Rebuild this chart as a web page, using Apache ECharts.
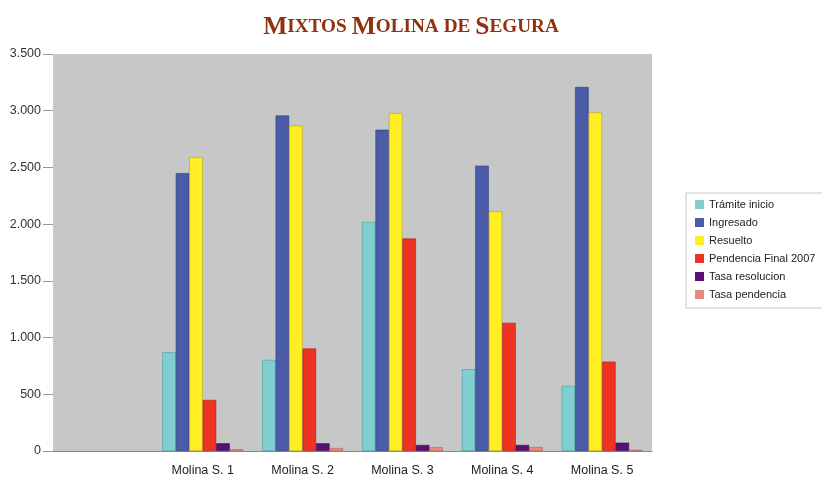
<!DOCTYPE html>
<html>
<head>
<meta charset="utf-8">
<script src="https://cdn.jsdelivr.net/npm/echarts@6/dist/echarts.min.js"></script>
<style>
  html, body { margin: 0; padding: 0; background: #fff; }
  #main { width: 822px; height: 478px; }
</style>
</head>
<body>
<div id="main"></div>
<script>
const categories = ['', 'Molina S. 1', 'Molina S. 2', 'Molina S. 3', 'Molina S. 4', 'Molina S. 5'];
const tramiteInicio = ['-', 870, 803, 2020, 721, 573];
const ingresado = ['-', 2450, 2958, 2832, 2515, 3209];
const resuelto = ['-', 2588, 2867, 2979, 2112, 2985];
const pendenciaFinal = ['-', 450, 903, 1873, 1130, 788];
const tasaResolucion = ['-', 68, 68, 53, 53, 73];
const tasaPendencia = ['-', 15, 26, 33, 35, 10];

const chartDom = document.getElementById('main');
const myChart = echarts.init(chartDom);

function bar(name, data, color, border) {
    return {
        name: name,
        type: 'bar',
        data: data,
        barGap: '0%',
        barCategoryGap: '19%',
        itemStyle: {color: color, borderColor: border, borderWidth: 0.6}
    };
}

let option = {
    animation: false,
    title: {
        text: '{b|M}{s|IXTOS} {b|M}{s|OLINA} {s|DE} {b|S}{s|EGURA}',
        left: 'center',
        top: 9,
        textStyle: {
            rich: {
                b: {fontFamily: 'Liberation Serif', fontSize: 25.5, color: '#8f3210'},
                s: {fontFamily: 'Liberation Serif', fontSize: 19.2, color: '#8f3210'}
            }
        }
    },
    grid: {left: 53, right: 170, top: 54, bottom: 27},
    legend: {
        orient: 'vertical',
        left: 686,
        top: 193,
        icon: 'rect',
        itemWidth: 9,
        itemHeight: 9,
        itemGap: 7,
        padding: [6, 8, 8, 9],
        borderColor: '#c8c8c8',
        borderWidth: 1,
        itemStyle: {borderWidth: 0},
        textStyle: {fontFamily: 'Liberation Sans', fontSize: 11, color: '#222'},
        data: ['Trámite inicio', 'Ingresado', 'Resuelto', 'Pendencia Final 2007', 'Tasa resolucion', 'Tasa pendencia']
    },
    xAxis: {
        type: 'category',
        data: categories,
        axisLine: {lineStyle: {color: '#888'}},
        axisTick: {alignWithLabel: true, length: 8, lineStyle: {color: '#999'}},
        axisLabel: {fontFamily: 'Liberation Sans', fontSize: 12.5, color: '#222', margin: 13}
    },
    yAxis: {
        type: 'value',
        min: 0,
        max: 3500,
        interval: 500,
        axisLine: {show: false},
        axisTick: {show: true, length: 10, lineStyle: {color: '#999'}},
        splitLine: {lineStyle: {color: '#8a8a8a', width: 1}},
        axisLabel: {
            fontFamily: 'Liberation Sans',
            fontSize: 12.5,
            color: '#333',
            margin: 12,
            formatter: function (v) {
                return String(v).replace(/\B(?=(\d{3})+(?!\d))/g, '.');
            }
        }
    },
    series: [
        Object.assign(bar('Trámite inicio', tramiteInicio, '#7fcfd0', '#4f9a9c'), {
            markArea: {
                silent: true,
                itemStyle: {color: '#c6c7c7'},
                data: [[{x: 53, y: 54}, {x: 652, y: 451}]]
            },
            z: 2
        }),
        bar('Ingresado', ingresado, '#4a5ba8', '#2e3b7a'),
        bar('Resuelto', resuelto, '#ffee22', '#b8a818'),
        bar('Pendencia Final 2007', pendenciaFinal, '#ee3322', '#a82014'),
        bar('Tasa resolucion', tasaResolucion, '#5a1070', '#3a0848'),
        bar('Tasa pendencia', tasaPendencia, '#e8887e', '#b06058')
    ]
};

myChart.setOption(option);
</script>
</body>
</html>
